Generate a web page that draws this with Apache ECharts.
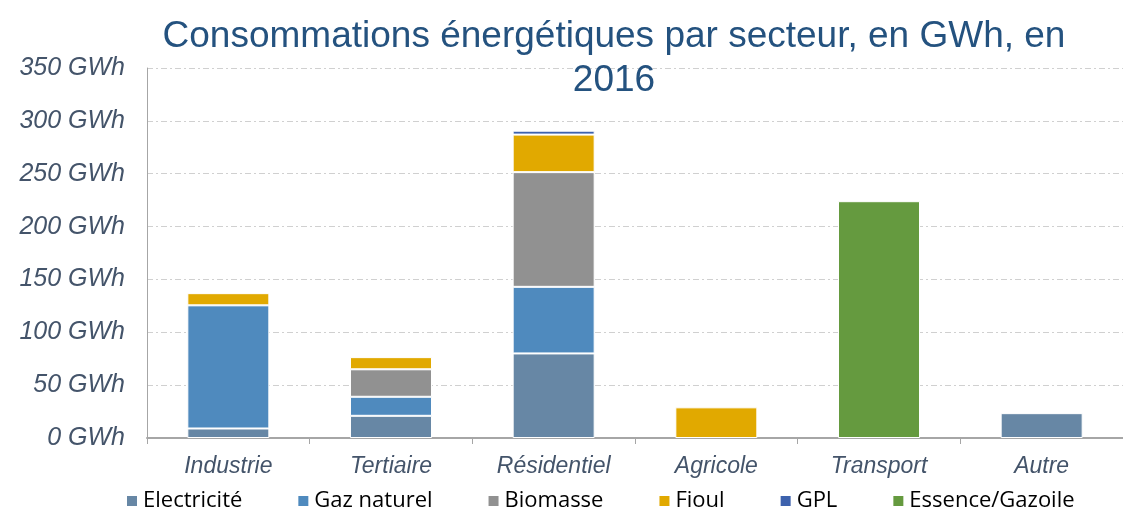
<!DOCTYPE html>
<html>
<head>
<meta charset="utf-8">
<script src="https://cdn.jsdelivr.net/npm/echarts@6/dist/echarts.min.js"></script>
<style>html,body{margin:0;padding:0;background:#fff}#c{width:1123px;height:513px}</style>
</head>
<body>
<div id="c"></div>
<script>
const categories = ['Industrie', 'Tertiaire', 'Résidentiel', 'Agricole', 'Transport', 'Autre'];
const seriesNames = ['Electricité', 'Gaz naturel', 'Biomasse', 'Fioul', 'GPL', 'Essence/Gazoile'];
const electricite = [9, 21, 80, null, null, 23.5];
const gazNaturel = [116.5, 18, 63, null, null, null];
const biomasse = [null, 26, 108.5, null, null, null];
const fioul = [11.5, 11.5, 35.5, 29, null, null];
const gpl = [null, null, 3.7, null, null, null];
const essence = [null, null, null, null, 224, null];
const colors = ['#6787A5', '#4F8ABE', '#919191', '#E1A900', '#3D62AD', '#659A3F'];
const yTicks = [0, 50, 100, 150, 200, 250, 300, 350];

const values = [electricite, gazNaturel, biomasse, fioul, gpl, essence];
const chart = echarts.init(document.getElementById('c'));
chart.setOption({
  animation: false,
  title: {
    text: 'Consommations énergétiques par secteur, en GWh, en\n2016',
    left: 609, top: 10, textAlign: 'center',
    textStyle: { fontFamily: 'Liberation Sans, Arial', fontSize: 37, fontWeight: 'normal', color: '#24527F', lineHeight: 44 }
  },
  legend: {
    top: 485, left: 120, itemWidth: 12, itemHeight: 12, itemGap: 54,
    icon: 'rect',
    textStyle: { fontFamily: 'Open Sans', fontSize: 22, color: '#000' },
    data: seriesNames
  },
  grid: { left: 147, top: 68, width: 986, bottom: 75 },
  xAxis: {
    type: 'category', data: categories,
    axisLine: { lineStyle: { color: '#A6A6A6', width: 2 } },
    axisTick: { show: true, length: 6, lineStyle: { color: '#A6A6A6' } },
    axisLabel: { fontFamily: 'Liberation Sans, Arial', fontStyle: 'italic', fontSize: 23, color: '#44546A', margin: 17 }
  },
  yAxis: {
    type: 'value', min: 0, max: 350, interval: 50,
    axisLine: { show: true, lineStyle: { color: '#A6A6A6', width: 1 } },
    axisTick: { show: false },
    splitLine: { lineStyle: { color: '#D0D0D0', type: [6, 3, 2, 3] } },
    axisLabel: { fontFamily: 'Liberation Sans, Arial', fontStyle: 'italic', fontSize: 25, color: '#44546A', margin: 22,
      formatter: v => yTicks.includes(v) ? v + ' GWh' : '' }
  },
  series: seriesNames.map((n, i) => ({
    name: n, type: 'bar', stack: 'total', data: values[i], barWidth: 82,
    itemStyle: { color: colors[i], borderColor: '#fff', borderWidth: 1 }
  }))
});
</script>
</body>
</html>
